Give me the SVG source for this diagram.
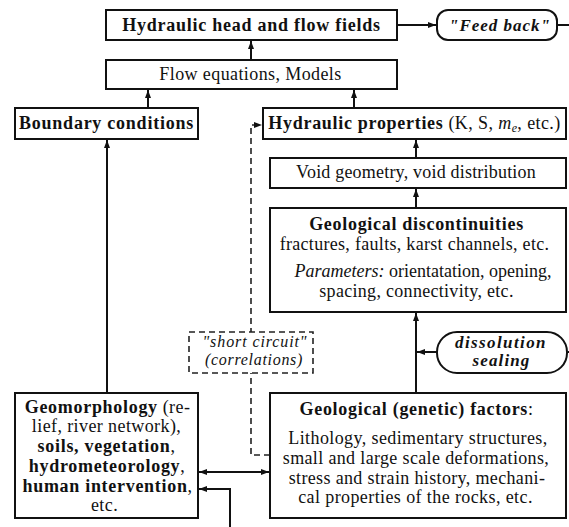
<svg xmlns="http://www.w3.org/2000/svg" width="569" height="527" viewBox="0 0 569 527">
<defs>
<marker id="ah" viewBox="0 0 8 6" refX="8" refY="3" markerWidth="8" markerHeight="6" markerUnits="userSpaceOnUse" orient="auto-start-reverse">
<path d="M0,0 L8,3 L0,6 Z" fill="#111"/>
</marker>
</defs>
<rect width="569" height="527" fill="#fff"/>
<g id="connectors" fill="none" stroke="#111" stroke-width="2">
<path d="M251,60 V41" marker-end="url(#ah)"/>
<path d="M148,108 V90" marker-end="url(#ah)"/>
<path d="M354,108 V90" marker-end="url(#ah)"/>
<path d="M397,25 H436" marker-end="url(#ah)"/>
<path d="M557,25 H569"/>
<path d="M416,158 V140" marker-end="url(#ah)"/>
<path d="M416,208 V189" marker-end="url(#ah)"/>
<path d="M416,393 V313" marker-end="url(#ah)"/>
<path d="M437,352 H417" marker-end="url(#ah)"/>
<path d="M575,352 H568" marker-end="url(#ah)"/>
<path d="M107,393 V140" marker-end="url(#ah)"/>
<path d="M199,472 H269" marker-start="url(#ah)" marker-end="url(#ah)"/>
<path d="M230,527 V489 H199" marker-end="url(#ah)"/>
<path d="M270,455 H251 V125 H262" stroke="#222" stroke-width="1.6" stroke-dasharray="6 4" marker-end="url(#ah)"/>
</g>
<g id="head">
<rect x="106" y="10" width="291" height="30" fill="#fff" stroke="#111" stroke-width="2"/>
<text font-family="Liberation Serif" font-size="18" font-weight="bold" letter-spacing="0.75" fill="#111" text-anchor="middle" x="251.5" y="31">Hydraulic head and flow fields</text>
</g>
<g id="feedback">
<rect x="437" y="10" width="120" height="30" rx="11" fill="#fff" stroke="#111" stroke-width="2"/>
<text font-family="Liberation Serif" font-size="17" font-weight="bold" font-style="italic" letter-spacing="1" fill="#111" text-anchor="middle" x="500" y="31">"Feed back"</text>
</g>
<g id="flow">
<rect x="106" y="60" width="291" height="29" fill="#fff" stroke="#111" stroke-width="2"/>
<text font-family="Liberation Serif" font-size="18" letter-spacing="0.4" fill="#111" text-anchor="middle" x="250.5" y="80">Flow equations, Models</text>
</g>
<g id="boundary">
<rect x="15" y="108" width="183" height="31" fill="#fff" stroke="#111" stroke-width="2"/>
<text font-family="Liberation Serif" font-size="18" font-weight="bold" letter-spacing="0.75" fill="#111" text-anchor="middle" x="106.5" y="129">Boundary conditions</text>
</g>
<g id="hydraulic">
<rect x="263" y="108" width="303" height="31" fill="#fff" stroke="#111" stroke-width="2"/>
<text font-family="Liberation Serif" font-size="18" letter-spacing="0.4" fill="#111" text-anchor="middle" x="414.5" y="129"><tspan font-weight="bold" letter-spacing="0.7">Hydraulic properties</tspan> (K, S, <tspan font-style="italic">m</tspan><tspan font-style="italic" font-size="12" dy="3">e</tspan><tspan dy="-3">, etc.)</tspan></text>
</g>
<g id="void">
<rect x="270" y="158" width="296" height="30" fill="#fff" stroke="#111" stroke-width="2"/>
<text font-family="Liberation Serif" font-size="18" letter-spacing="0.2" fill="#111" text-anchor="middle" x="416" y="178">Void geometry, void distribution</text>
</g>
<g id="discontinuities" fill="#111" text-anchor="middle">
<rect x="270" y="208" width="296" height="104" fill="#fff" stroke="#111" stroke-width="2"/>
<text font-family="Liberation Serif" font-size="18" font-weight="bold" letter-spacing="0.7" x="416.5" y="230">Geological discontinuities</text>
<text font-family="Liberation Serif" font-size="18" letter-spacing="0.3" x="414.5" y="250">fractures, faults, karst channels, etc.</text>
<text font-family="Liberation Serif" font-size="18" letter-spacing="0" x="423" y="277"><tspan font-style="italic">Parameters:</tspan> orientatation, opening,</text>
<text font-family="Liberation Serif" font-size="18" letter-spacing="0.3" x="416.5" y="297">spacing, connectivity, etc.</text>
</g>
<g id="shortcircuit" fill="#111" text-anchor="middle">
<rect x="189" y="332" width="124" height="41" fill="#fff" stroke="#222" stroke-width="1.6" stroke-dasharray="6 4"/>
<text font-family="Liberation Serif" font-size="16" font-style="italic" letter-spacing="0.9" x="255" y="347">"short circuit"</text>
<text font-family="Liberation Serif" font-size="16" font-style="italic" letter-spacing="0.7" x="254" y="365">(correlations)</text>
</g>
<g id="dissolution" fill="#111" text-anchor="middle">
<rect x="437" y="332" width="130" height="41" rx="20" fill="#fff" stroke="#111" stroke-width="2"/>
<text font-family="Liberation Serif" font-size="17" font-style="italic" font-weight="bold" letter-spacing="1.4" x="501" y="348">dissolution</text>
<text font-family="Liberation Serif" font-size="17" font-style="italic" font-weight="bold" letter-spacing="1.1" x="501.5" y="366">sealing</text>
</g>
<g id="factors" fill="#111" text-anchor="middle">
<rect x="270" y="393" width="296" height="125" fill="#fff" stroke="#111" stroke-width="2"/>
<text font-family="Liberation Serif" font-size="18" letter-spacing="0.4" x="416.5" y="415"><tspan font-weight="bold" letter-spacing="0.7">Geological (genetic) factors</tspan>:</text>
<text font-family="Liberation Serif" font-size="18" letter-spacing="0.4" x="418" y="444">Lithology, sedimentary structures,</text>
<text font-family="Liberation Serif" font-size="18" letter-spacing="0.35" x="416" y="464">small and large scale deformations,</text>
<text font-family="Liberation Serif" font-size="18" letter-spacing="0.35" x="417" y="484">stress and strain history, mechani-</text>
<text font-family="Liberation Serif" font-size="18" letter-spacing="0.4" x="415.5" y="503">cal properties of the rocks, etc.</text>
</g>
<g id="geomorphology" fill="#111" text-anchor="middle">
<rect x="15" y="393" width="183" height="125" fill="#fff" stroke="#111" stroke-width="2"/>
<text font-family="Liberation Serif" font-size="18" letter-spacing="0.4" x="107.5" y="413"><tspan font-weight="bold" letter-spacing="0.7">Geomorphology</tspan> (re-</text>
<text font-family="Liberation Serif" font-size="18" letter-spacing="0.4" x="106.5" y="432">lief, river network),</text>
<text font-family="Liberation Serif" font-size="18" letter-spacing="0.4" x="106.5" y="452"><tspan font-weight="bold" letter-spacing="0.7">soils, vegetation</tspan>,</text>
<text font-family="Liberation Serif" font-size="18" letter-spacing="0.4" x="107" y="472"><tspan font-weight="bold" letter-spacing="0.7">hydrometeorology</tspan>,</text>
<text font-family="Liberation Serif" font-size="18" letter-spacing="0.4" x="107.5" y="492"><tspan font-weight="bold" letter-spacing="0.7">human intervention</tspan>,</text>
<text font-family="Liberation Serif" font-size="18" letter-spacing="0.4" x="104.5" y="511">etc.</text>
</g>
</svg>
